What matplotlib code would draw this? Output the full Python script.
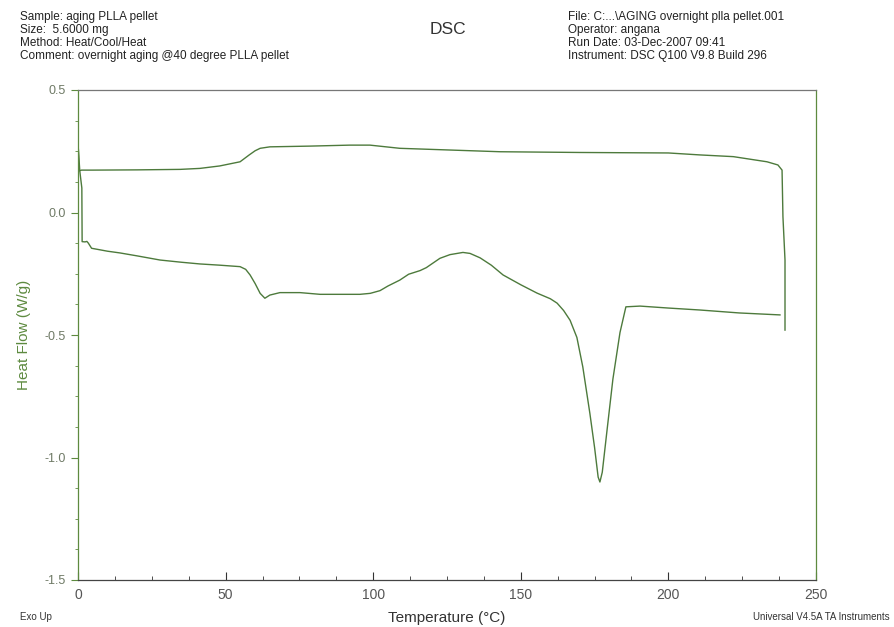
import matplotlib
matplotlib.use("Agg")
import matplotlib.pyplot as plt
from matplotlib.ticker import MultipleLocator

plt.rcParams['font.family'] = ['Liberation Sans', 'DejaVu Sans']

# Heating scan (lower curve), temperature in °C, heat flow in W/g
heat_T = [0.1, 0.6, 1.3, 1.4, 2.4, 3.0, 3.5, 4.6, 10, 14.2, 20, 27.8, 35, 41.3, 48,
          54.9, 56.8, 58.3, 60, 61.7, 63.3, 65, 68.4, 75.2, 82, 90, 95.5, 99, 102.3,
          105, 109, 112, 115.9, 118, 122.6, 126, 130.4, 132.8, 136.2, 140, 144,
          150, 155.5, 160, 162.3, 164.5, 166.7, 169, 171, 173.4, 175, 176.2,
          176.8, 177.6, 179.2, 181.2, 183.6, 185.6, 190.4, 200, 210.7, 224, 237.8]
heat_Q = [0.263, 0.17, 0.1, -0.119, -0.12, -0.118, -0.125, -0.146, -0.158, -0.165,
          -0.177, -0.194, -0.203, -0.21, -0.215, -0.221, -0.232, -0.255, -0.29,
          -0.33, -0.35, -0.337, -0.327, -0.327, -0.334, -0.334, -0.334, -0.33,
          -0.319, -0.30, -0.276, -0.252, -0.237, -0.225, -0.187, -0.172, -0.163,
          -0.167, -0.185, -0.215, -0.255, -0.295, -0.329, -0.352, -0.37, -0.40,
          -0.44, -0.51, -0.63, -0.82, -0.96, -1.08, -1.10, -1.06, -0.89, -0.68,
          -0.49, -0.385, -0.382, -0.39, -0.398, -0.41, -0.418]

# Cooling scan (upper curve), recorded from high to low temperature
cool_T = [239.5, 239.5, 238.8, 238.5, 237.1, 233.4, 222, 210.7, 200, 170, 143,
          126, 109, 98.9, 92.1, 78.6, 65, 61.7, 60, 58, 54.9, 48, 41.3, 34.6, 20,
          5, 1.2, 0.3, 0.1]
cool_Q = [-0.48, -0.194, -0.017, 0.173, 0.194, 0.207, 0.228, 0.235, 0.243, 0.245,
          0.248, 0.255, 0.262, 0.275, 0.275, 0.271, 0.268, 0.262, 0.252, 0.235,
          0.207, 0.19, 0.18, 0.176, 0.174, 0.173, 0.173, 0.17, 0.263]

x_ticks = [0, 50, 100, 150, 200, 250]
y_ticks = [-1.5, -1.0, -0.5, 0.0, 0.5]
y_tick_labels = ['-1.5', '-1.0', '-0.5', '0.0', '0.5']

line_color = '#4d7a3c'
label_green = '#5d8a3f'
tick_gray = '#6f7a66'

fig = plt.figure(figsize=(8.95, 6.27), dpi=100)
ax = fig.add_axes([78/895, 1-580/627, (816-78)/895, (580-90)/627])

ax.plot(cool_T, cool_Q, color=line_color, lw=1.0)
ax.plot(heat_T, heat_Q, color=line_color, lw=1.0)

ax.set_xlim(0, 250)
ax.set_ylim(-1.5, 0.5)
ax.set_xticks(x_ticks)
ax.set_yticks(y_ticks)
ax.set_yticklabels(y_tick_labels)
ax.xaxis.set_minor_locator(MultipleLocator(12.5))
ax.yaxis.set_minor_locator(MultipleLocator(0.125))

ax.tick_params(axis='x', which='both', direction='in', colors='#333333',
               labelsize=10, labelcolor='#555555', pad=6)
ax.tick_params(axis='x', which='major', length=6)
ax.tick_params(axis='x', which='minor', length=3)
ax.tick_params(axis='y', which='both', direction='out', color=label_green,
               labelsize=9, labelcolor=tick_gray)
ax.tick_params(axis='y', which='major', length=5)
ax.tick_params(axis='y', which='minor', length=2)

ax.spines['top'].set_color('#777777')
ax.spines['bottom'].set_color('#444444')
ax.spines['left'].set_color(label_green)
ax.spines['right'].set_color(label_green)
for s in ax.spines.values():
    s.set_linewidth(0.9)

ax.set_ylabel('Heat Flow (W/g)', color=label_green, fontsize=11, labelpad=10)

def fx(px):
    return px / 895

def fy(py):
    return 1 - py / 627

left_lines = ["Sample: aging PLLA pellet", "Size:  5.6000 mg",
              "Method: Heat/Cool/Heat", "Comment: overnight aging @40 degree PLLA pellet"]
right_lines = ["File: C:...\\AGING overnight plla pellet.001", "Operator: angana",
               "Run Date: 03-Dec-2007 09:41", "Instrument: DSC Q100 V9.8 Build 296"]
for i, t in enumerate(left_lines):
    fig.text(fx(20), fy(17 + 13 * i), t, fontsize=8.5, color='#222222', va='center')
for i, t in enumerate(right_lines):
    fig.text(fx(568), fy(17 + 13 * i), t, fontsize=8.5, color='#222222', va='center')

fig.text(fx(448), fy(30), 'DSC', fontsize=12.5, color='#333333', ha='center', va='center')
fig.text(fx(20), fy(617), 'Exo Up', fontsize=7, color='#333333', va='center')
fig.text(fx(447), fy(618), 'Temperature (°C)', fontsize=11, color='#333333',
         ha='center', va='center')
fig.text(fx(890), fy(617), 'Universal V4.5A TA Instruments', fontsize=7,
         color='#333333', ha='right', va='center')

fig.savefig('out.png', dpi=100)
